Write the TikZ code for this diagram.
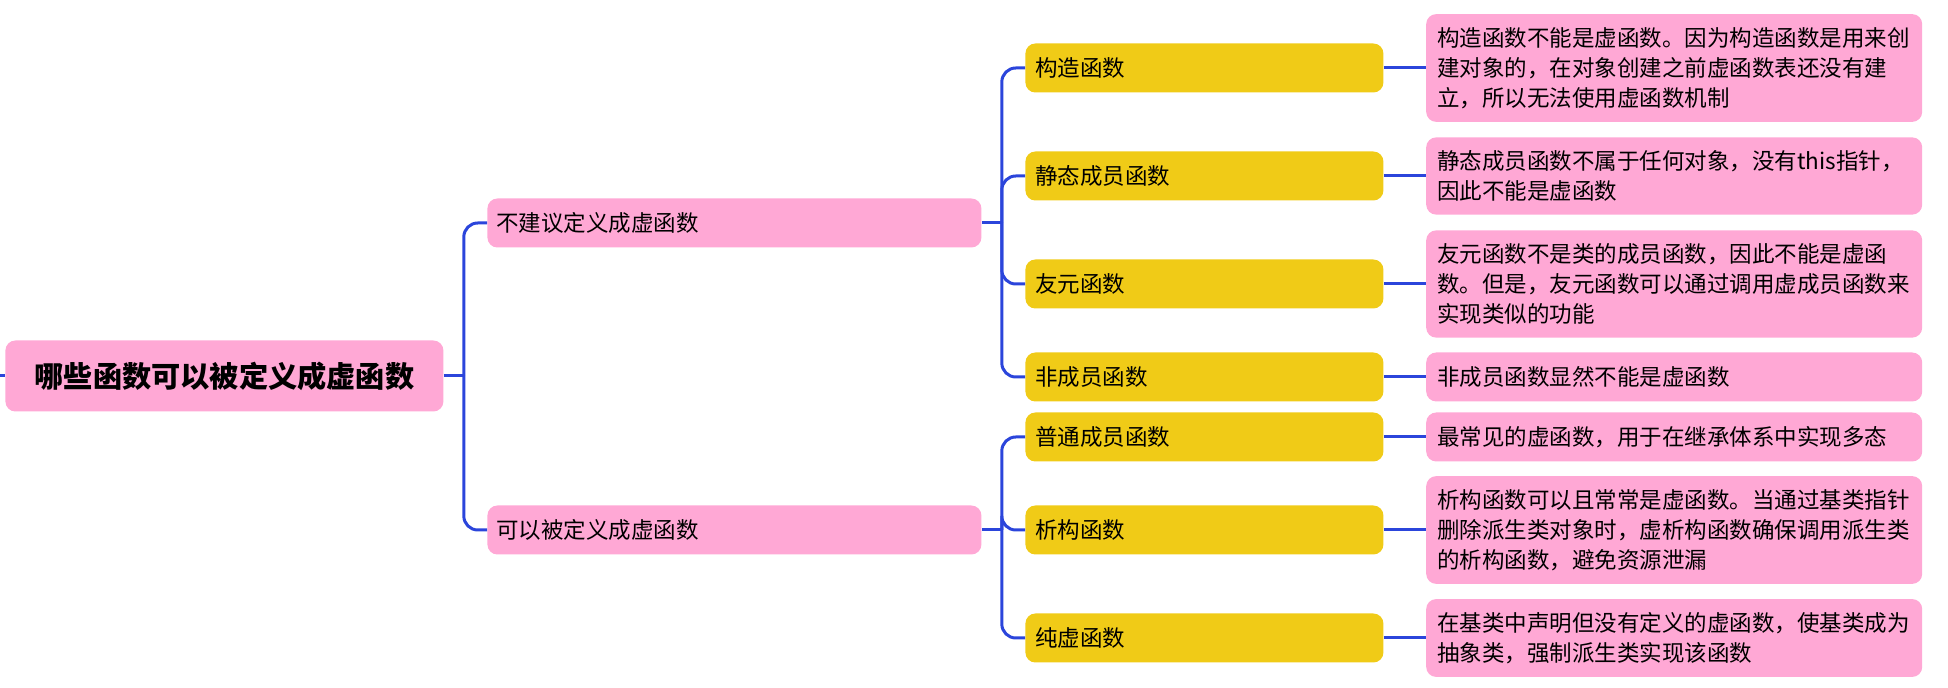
\documentclass[tikz,border=0pt]{standalone}
\usepackage{fontspec}
\newfontfamily\cjk{Noto Sans CJK SC}
\XeTeXlinebreaklocale "zh"
\usetikzlibrary{positioning}
\definecolor{mappink}{HTML}{FFA8D5}
\definecolor{mapgold}{HTML}{F0CB17}
\definecolor{mapblue}{HTML}{2B45DB}

\begin{document}
\begin{tikzpicture}[x=0.5pt,y=-0.5pt,node distance=21pt, every node/.style={font=\cjk\fontsize{11.25}{15}\selectfont}]
\tikzstyle{blk}=[rounded corners=5pt, minimum height=24.5pt, inner ysep=6.6pt, align=left]
\tikzstyle{topblk}=[blk, fill=mappink, minimum width=219pt, minimum height=35.5pt, align=center, font=\cjk\bfseries\fontsize{14.6}{18}\selectfont]
\tikzstyle{midblk}=[blk, fill=mappink, text width=238pt, inner xsep=4.5pt]
\tikzstyle{fnblk}=[blk, fill=mapgold, text width=169pt, inner xsep=5pt]
\tikzstyle{noteblk}=[blk, fill=mappink, text width=237pt, inner xsep=5.5pt]
\tikzstyle{link}=[draw=mapblue, line width=1.5pt, rounded corners=7pt]
\useasboundingbox (0,0) rectangle (1948,688);

\node[topblk,anchor=west] (top) at (5,376) {哪些函数可以被定义成虚函数};
\node[midblk,anchor=west] (avoid) at (487,223) {不建议定义成虚函数};
\node[midblk,anchor=west] (allow) at (487,530) {可以被定义成虚函数};

% group one
\node[fnblk,anchor=west] (ctor) at (1025,68) {构造函数};
\node[fnblk,anchor=west] (stat) at (1025,176) {静态成员函数};
\node[fnblk,anchor=west] (frnd) at (1025,284) {友元函数};
\node[fnblk,anchor=west] (nonm) at (1025,377) {非成员函数};
% group two
\node[fnblk,anchor=west] (norm) at (1025,437) {普通成员函数};
\node[fnblk,anchor=west] (dtor) at (1025,530) {析构函数};
\node[fnblk,anchor=west] (pure) at (1025,638) {纯虚函数};

\node[noteblk,right=of ctor] (ctornote) {构造函数不能是虚函数。因为构造函数是用来创\\建对象的，在对象创建之前虚函数表还没有建\\立，所以无法使用虚函数机制};
\node[noteblk,right=of stat] (statnote) {静态成员函数不属于任何对象，没有this指针，\\因此不能是虚函数};
\node[noteblk,right=of frnd] (frndnote) {友元函数不是类的成员函数，因此不能是虚函\\数。但是，友元函数可以通过调用虚成员函数来\\实现类似的功能};
\node[noteblk,right=of nonm] (nonmnote) {非成员函数显然不能是虚函数};
\node[noteblk,right=of norm] (normnote) {最常见的虚函数，用于在继承体系中实现多态};
\node[noteblk,right=of dtor] (dtornote) {析构函数可以且常常是虚函数。当通过基类指针\\删除派生类对象时，虚析构函数确保调用派生类\\的析构函数，避免资源泄漏};
\node[noteblk,right=of pure] (purenote) {在基类中声明但没有定义的虚函数，使基类成为\\抽象类，强制派生类实现该函数};

\coordinate (lft) at (0,376);
\coordinate (ta) at ([xshift=10pt]top.east);
\coordinate (tb) at ([xshift=10pt]avoid.east);
\coordinate (tc) at ([xshift=10pt]allow.east);

\draw[link] (lft) -- (top.west);
\draw[link] (top.east) -- (ta);
\draw[link] (ta) |- (avoid.west);
\draw[link] (ta) |- (allow.west);
\draw[link] (avoid.east) -- (tb);
\draw[link] (tb) |- (ctor.west); \draw[link] (tb) |- (stat.west);
\draw[link] (tb) |- (frnd.west); \draw[link] (tb) |- (nonm.west);
\draw[link] (allow.east) -- (tc);
\draw[link] (tc) |- (norm.west); \draw[link] (tc) |- (dtor.west); \draw[link] (tc) |- (pure.west);
\draw[link] (ctor)--(ctornote); \draw[link] (stat)--(statnote); \draw[link] (frnd)--(frndnote);
\draw[link] (nonm)--(nonmnote); \draw[link] (norm)--(normnote); \draw[link] (dtor)--(dtornote);
\draw[link] (pure)--(purenote);
\end{tikzpicture}
\end{document}
